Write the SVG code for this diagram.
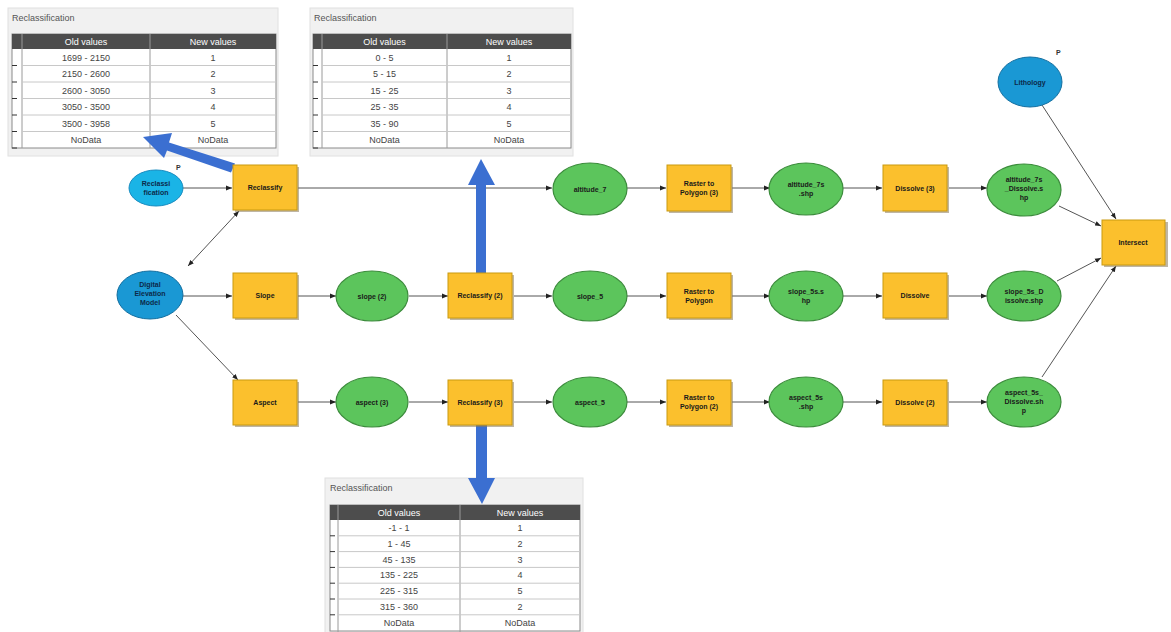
<svg xmlns="http://www.w3.org/2000/svg" width="1171" height="632" viewBox="0 0 1171 632">
<style>
.panel{fill:#f1f1f1;stroke:#e0e0e0;stroke-width:1}
.ttl{font-family:"Liberation Sans",Arial,sans-serif;font-size:9px;fill:#555}
.hdr{fill:#4d4d4d}
.ht{font-family:"Liberation Sans",Arial,sans-serif;font-size:9px;fill:#fff;text-anchor:middle}
.body{fill:#fff;stroke:#8a8a8a;stroke-width:1}
.gl{stroke:#c8c8c8;stroke-width:1}
.cl{stroke:#9a9a9a;stroke-width:1}
.tk{stroke:#333;stroke-width:1}
.ct{font-family:"Liberation Sans",Arial,sans-serif;font-size:9px;fill:#444;text-anchor:middle}
.tool{fill:#fbc02d;stroke:#c99a10;stroke-width:1}
.shd{fill:#8a7a5a;opacity:0.55}
.data{fill:#5cc55c;stroke:#3c8c3c;stroke-width:1.2}
.inp{fill:#1ab4e6;stroke:#1a8cc0;stroke-width:1}
.inp2{fill:#1a98d4;stroke:#146fa0;stroke-width:1}
.lbl{font-family:"Liberation Sans",Arial,sans-serif;font-size:7px;font-weight:bold;fill:#1a1a1a;text-anchor:middle}
.lblb{font-family:"Liberation Sans",Arial,sans-serif;font-size:7px;font-weight:bold;fill:#0c2a4a;text-anchor:middle}
.pm{font-family:"Liberation Sans",Arial,sans-serif;font-size:7px;font-weight:bold;fill:#333}
.con{stroke:#555;stroke-width:1;fill:none;marker-end:url(#ah)}
.blue{fill:#3b6fd1}
</style>
<defs>
<marker id="ah" viewBox="0 0 10 10" refX="10" refY="5" markerWidth="6" markerHeight="6" orient="auto" markerUnits="userSpaceOnUse">
<path d="M0,1 L10,5 L0,9 z" fill="#222"/>
</marker>
<marker id="as" viewBox="0 0 10 10" refX="0" refY="5" markerWidth="6" markerHeight="6" orient="auto" markerUnits="userSpaceOnUse">
<path d="M10,1 L0,5 L10,9 z" fill="#222"/>
</marker>
</defs>
<rect width="1171" height="632" fill="#ffffff"/>

<!-- Table 1 (top-left) -->
<g id="table-altitude">
<rect class="panel" x="8" y="8" width="270" height="148"/>
<text class="ttl" x="12" y="21">Reclassification</text>
<rect class="body" x="12" y="34" width="264" height="114"/>
<rect class="hdr" x="12" y="34" width="264" height="15"/>
<text class="ht" x="86" y="44.5">Old values</text>
<text class="ht" x="213" y="44.5">New values</text>
<line class="cl" x1="150" y1="34" x2="150" y2="148"/>
<line class="cl" x1="22" y1="34" x2="22" y2="148"/>
<g class="gl"><line x1="22" y1="65.5" x2="276" y2="65.5"/><line x1="22" y1="82" x2="276" y2="82"/><line x1="22" y1="98.5" x2="276" y2="98.5"/><line x1="22" y1="115" x2="276" y2="115"/><line x1="22" y1="131.5" x2="276" y2="131.5"/></g>
<g class="tk"><line x1="12" y1="65.5" x2="17" y2="65.5"/><line x1="12" y1="82" x2="17" y2="82"/><line x1="12" y1="98.5" x2="17" y2="98.5"/><line x1="12" y1="115" x2="17" y2="115"/><line x1="12" y1="131.5" x2="17" y2="131.5"/><line x1="12" y1="148" x2="17" y2="148"/></g>
<text class="ct" x="86" y="60.5">1699 - 2150</text><text class="ct" x="213" y="60.5">1</text>
<text class="ct" x="86" y="77">2150 - 2600</text><text class="ct" x="213" y="77">2</text>
<text class="ct" x="86" y="93.5">2600 - 3050</text><text class="ct" x="213" y="93.5">3</text>
<text class="ct" x="86" y="110">3050 - 3500</text><text class="ct" x="213" y="110">4</text>
<text class="ct" x="86" y="126.5">3500 - 3958</text><text class="ct" x="213" y="126.5">5</text>
<text class="ct" x="86" y="143">NoData</text><text class="ct" x="213" y="143">NoData</text>
</g>

<!-- Table 2 (top-middle) -->
<g id="table-slope">
<rect class="panel" x="310" y="8" width="263" height="148"/>
<text class="ttl" x="314" y="21">Reclassification</text>
<rect class="body" x="313" y="34" width="258" height="114"/>
<rect class="hdr" x="313" y="34" width="258" height="15"/>
<text class="ht" x="384.5" y="44.5">Old values</text>
<text class="ht" x="509" y="44.5">New values</text>
<line class="cl" x1="447" y1="34" x2="447" y2="148"/>
<line class="cl" x1="322" y1="34" x2="322" y2="148"/>
<g class="gl"><line x1="322" y1="65.5" x2="571" y2="65.5"/><line x1="322" y1="82" x2="571" y2="82"/><line x1="322" y1="98.5" x2="571" y2="98.5"/><line x1="322" y1="115" x2="571" y2="115"/><line x1="322" y1="131.5" x2="571" y2="131.5"/></g>
<g class="tk"><line x1="313" y1="65.5" x2="318" y2="65.5"/><line x1="313" y1="82" x2="318" y2="82"/><line x1="313" y1="98.5" x2="318" y2="98.5"/><line x1="313" y1="115" x2="318" y2="115"/><line x1="313" y1="131.5" x2="318" y2="131.5"/><line x1="313" y1="148" x2="318" y2="148"/></g>
<text class="ct" x="384.5" y="60.5">0 - 5</text><text class="ct" x="509" y="60.5">1</text>
<text class="ct" x="384.5" y="77">5 - 15</text><text class="ct" x="509" y="77">2</text>
<text class="ct" x="384.5" y="93.5">15 - 25</text><text class="ct" x="509" y="93.5">3</text>
<text class="ct" x="384.5" y="110">25 - 35</text><text class="ct" x="509" y="110">4</text>
<text class="ct" x="384.5" y="126.5">35 - 90</text><text class="ct" x="509" y="126.5">5</text>
<text class="ct" x="384.5" y="143">NoData</text><text class="ct" x="509" y="143">NoData</text>
</g>

<!-- Table 3 (bottom) -->
<g id="table-aspect">
<rect class="panel" x="325" y="478" width="258" height="160"/>
<text class="ttl" x="330" y="491">Reclassification</text>
<rect class="body" x="330" y="505" width="250" height="126"/>
<rect class="hdr" x="330" y="505" width="250" height="15"/>
<text class="ht" x="399" y="515.5">Old values</text>
<text class="ht" x="520" y="515.5">New values</text>
<line class="cl" x1="460" y1="505" x2="460" y2="632"/>
<line class="cl" x1="338" y1="505" x2="338" y2="632"/>
<g class="gl"><line x1="338" y1="535.8" x2="580" y2="535.8"/><line x1="338" y1="551.6" x2="580" y2="551.6"/><line x1="338" y1="567.4" x2="580" y2="567.4"/><line x1="338" y1="583.2" x2="580" y2="583.2"/><line x1="338" y1="599" x2="580" y2="599"/><line x1="338" y1="614.8" x2="580" y2="614.8"/></g>
<g class="tk"><line x1="330" y1="535.8" x2="335" y2="535.8"/><line x1="330" y1="551.6" x2="335" y2="551.6"/><line x1="330" y1="567.4" x2="335" y2="567.4"/><line x1="330" y1="583.2" x2="335" y2="583.2"/><line x1="330" y1="599" x2="335" y2="599"/><line x1="330" y1="614.8" x2="335" y2="614.8"/></g>
<text class="ct" x="399" y="531">-1 - 1</text><text class="ct" x="520" y="531">1</text>
<text class="ct" x="399" y="546.8">1 - 45</text><text class="ct" x="520" y="546.8">2</text>
<text class="ct" x="399" y="562.6">45 - 135</text><text class="ct" x="520" y="562.6">3</text>
<text class="ct" x="399" y="578.4">135 - 225</text><text class="ct" x="520" y="578.4">4</text>
<text class="ct" x="399" y="594.2">225 - 315</text><text class="ct" x="520" y="594.2">5</text>
<text class="ct" x="399" y="610">315 - 360</text><text class="ct" x="520" y="610">2</text>
<text class="ct" x="399" y="625.8">NoData</text><text class="ct" x="520" y="625.8">NoData</text>
</g>

<!-- Connectors -->
<g id="connectors">
<line class="con" x1="182" y1="188" x2="232" y2="188"/>
<line class="con" x1="188" y1="266" x2="239" y2="211" style="marker-start:url(#as)"/>
<line class="con" x1="182" y1="296" x2="232" y2="296"/>
<line class="con" x1="176" y1="315" x2="238" y2="380"/>
<line class="con" x1="298" y1="188" x2="552" y2="188"/>
<line class="con" x1="298" y1="296" x2="336" y2="296"/>
<line class="con" x1="298" y1="402" x2="336" y2="402"/>
<line class="con" x1="409" y1="296" x2="448" y2="296"/>
<line class="con" x1="409" y1="402" x2="448" y2="402"/>
<line class="con" x1="514" y1="296" x2="552" y2="296"/>
<line class="con" x1="514" y1="402" x2="552" y2="402"/>
<line class="con" x1="627" y1="188" x2="666" y2="188"/>
<line class="con" x1="627" y1="296" x2="666" y2="296"/>
<line class="con" x1="627" y1="402" x2="666" y2="402"/>
<line class="con" x1="732" y1="188" x2="770" y2="188"/>
<line class="con" x1="732" y1="296" x2="770" y2="296"/>
<line class="con" x1="732" y1="402" x2="770" y2="402"/>
<line class="con" x1="843" y1="188" x2="882" y2="188"/>
<line class="con" x1="843" y1="296" x2="882" y2="296"/>
<line class="con" x1="843" y1="402" x2="882" y2="402"/>
<line class="con" x1="949" y1="188" x2="987" y2="188"/>
<line class="con" x1="949" y1="296" x2="987" y2="296"/>
<line class="con" x1="949" y1="402" x2="987" y2="402"/>
<line class="con" x1="1059" y1="206" x2="1101" y2="226"/>
<line class="con" x1="1057" y1="281" x2="1101" y2="258"/>
<line class="con" x1="1042" y1="377" x2="1116" y2="266"/>
<line class="con" x1="1042" y1="105" x2="1116" y2="219"/>
</g>

<!-- Blue callout arrows -->
<g id="callouts">
<polygon class="blue" points="235,163.5 169,142.5 172,133 143,137 164,158 167,150.5 231,172.5"/>
<polygon class="blue" points="476,273 476,185 468,185 481,159 495,185 486,185 486,273"/>
<polygon class="blue" points="476,425 476,478 468,478 482,504 495,478 487,478 487,425"/>
</g>

<!-- Nodes -->
<g id="n-reclass-input"><ellipse class="inp" cx="156" cy="188" rx="27" ry="18"/><text class="lblb" x="156" y="186">Reclassi</text><text class="lblb" x="156" y="195">fication</text><text class="pm" x="176" y="170">P</text></g>
<g id="n-dem"><ellipse class="inp2" cx="150" cy="295" rx="33" ry="24"/><text class="lblb" x="150" y="287">Digital</text><text class="lblb" x="150" y="296">Elevation</text><text class="lblb" x="150" y="305">Model</text></g>
<g id="n-lithology"><ellipse class="inp2" cx="1030" cy="82" rx="32" ry="25"/><text class="lblb" x="1030" y="85">Lithology</text><text class="pm" x="1056" y="55">P</text></g>

<g id="n-reclassify"><rect class="shd" x="235" y="167" width="64" height="45"/><rect class="tool" x="233" y="165" width="64" height="45"/><text class="lbl" x="265" y="190">Reclassify</text></g>
<g id="n-slope"><rect class="shd" x="235" y="275" width="64" height="45"/><rect class="tool" x="233" y="273" width="64" height="45"/><text class="lbl" x="265" y="298">Slope</text></g>
<g id="n-aspect"><rect class="shd" x="235" y="382" width="64" height="45"/><rect class="tool" x="233" y="380" width="64" height="45"/><text class="lbl" x="265" y="405">Aspect</text></g>

<g id="n-slope2"><ellipse class="data" cx="372" cy="296" rx="36" ry="25"/><text class="lbl" x="372" y="298.5">slope (2)</text></g>
<g id="n-aspect3"><ellipse class="data" cx="372" cy="402" rx="36" ry="25"/><text class="lbl" x="372" y="404.5">aspect (3)</text></g>

<g id="n-reclassify2"><rect class="shd" x="450" y="275" width="64" height="45"/><rect class="tool" x="448" y="273" width="64" height="45"/><text class="lbl" x="480" y="298">Reclassify (2)</text></g>
<g id="n-reclassify3"><rect class="shd" x="450" y="382" width="64" height="45"/><rect class="tool" x="448" y="380" width="64" height="45"/><text class="lbl" x="480" y="405">Reclassify (3)</text></g>

<g id="n-altitude7"><ellipse class="data" cx="590" cy="189" rx="37" ry="26"/><text class="lbl" x="590" y="191.5">altitude_7</text></g>
<g id="n-slope5"><ellipse class="data" cx="590" cy="296" rx="37" ry="25"/><text class="lbl" x="590" y="298.5">slope_5</text></g>
<g id="n-aspect5"><ellipse class="data" cx="590" cy="402" rx="37" ry="25"/><text class="lbl" x="590" y="404.5">aspect_5</text></g>

<g id="n-r2p3"><rect class="shd" x="669" y="167" width="64" height="46"/><rect class="tool" x="667" y="165" width="64" height="46"/><text class="lbl" x="699" y="186">Raster to</text><text class="lbl" x="699" y="195">Polygon (3)</text></g>
<g id="n-r2p"><rect class="shd" x="669" y="275" width="64" height="45"/><rect class="tool" x="667" y="273" width="64" height="45"/><text class="lbl" x="699" y="294">Raster to</text><text class="lbl" x="699" y="303">Polygon</text></g>
<g id="n-r2p2"><rect class="shd" x="669" y="382" width="64" height="45"/><rect class="tool" x="667" y="380" width="64" height="45"/><text class="lbl" x="699" y="400">Raster to</text><text class="lbl" x="699" y="409">Polygon (2)</text></g>

<g id="n-alt7s"><ellipse class="data" cx="806" cy="189" rx="37" ry="26"/><text class="lbl" x="806" y="187">altitude_7s</text><text class="lbl" x="806" y="196">.shp</text></g>
<g id="n-slope5s"><ellipse class="data" cx="806" cy="296" rx="37" ry="25"/><text class="lbl" x="806" y="294">slope_5s.s</text><text class="lbl" x="806" y="303">hp</text></g>
<g id="n-aspect5s"><ellipse class="data" cx="806" cy="402" rx="37" ry="25"/><text class="lbl" x="806" y="400">aspect_5s</text><text class="lbl" x="806" y="409">.shp</text></g>

<g id="n-dissolve3"><rect class="shd" x="885" y="167" width="64" height="46"/><rect class="tool" x="883" y="165" width="64" height="46"/><text class="lbl" x="915" y="191">Dissolve (3)</text></g>
<g id="n-dissolve"><rect class="shd" x="885" y="275" width="64" height="45"/><rect class="tool" x="883" y="273" width="64" height="45"/><text class="lbl" x="915" y="298">Dissolve</text></g>
<g id="n-dissolve2"><rect class="shd" x="885" y="382" width="64" height="45"/><rect class="tool" x="883" y="380" width="64" height="45"/><text class="lbl" x="915" y="405">Dissolve (2)</text></g>

<g id="n-alt7s-diss"><ellipse class="data" cx="1024" cy="190" rx="37" ry="26"/><text class="lbl" x="1024" y="182">altitude_7s</text><text class="lbl" x="1024" y="191">_Dissolve.s</text><text class="lbl" x="1024" y="200">hp</text></g>
<g id="n-slope5s-diss"><ellipse class="data" cx="1024" cy="296" rx="37" ry="25"/><text class="lbl" x="1024" y="294">slope_5s_D</text><text class="lbl" x="1024" y="303">issolve.shp</text></g>
<g id="n-aspect5s-diss"><ellipse class="data" cx="1024" cy="402" rx="37" ry="25"/><text class="lbl" x="1024" y="395">aspect_5s_</text><text class="lbl" x="1024" y="404">Dissolve.sh</text><text class="lbl" x="1024" y="413">p</text></g>

<g id="n-intersect"><rect class="shd" x="1104" y="222" width="64" height="45"/><rect class="tool" x="1102" y="220" width="63" height="45"/><text class="lbl" x="1133" y="245">Intersect</text></g>
</svg>
